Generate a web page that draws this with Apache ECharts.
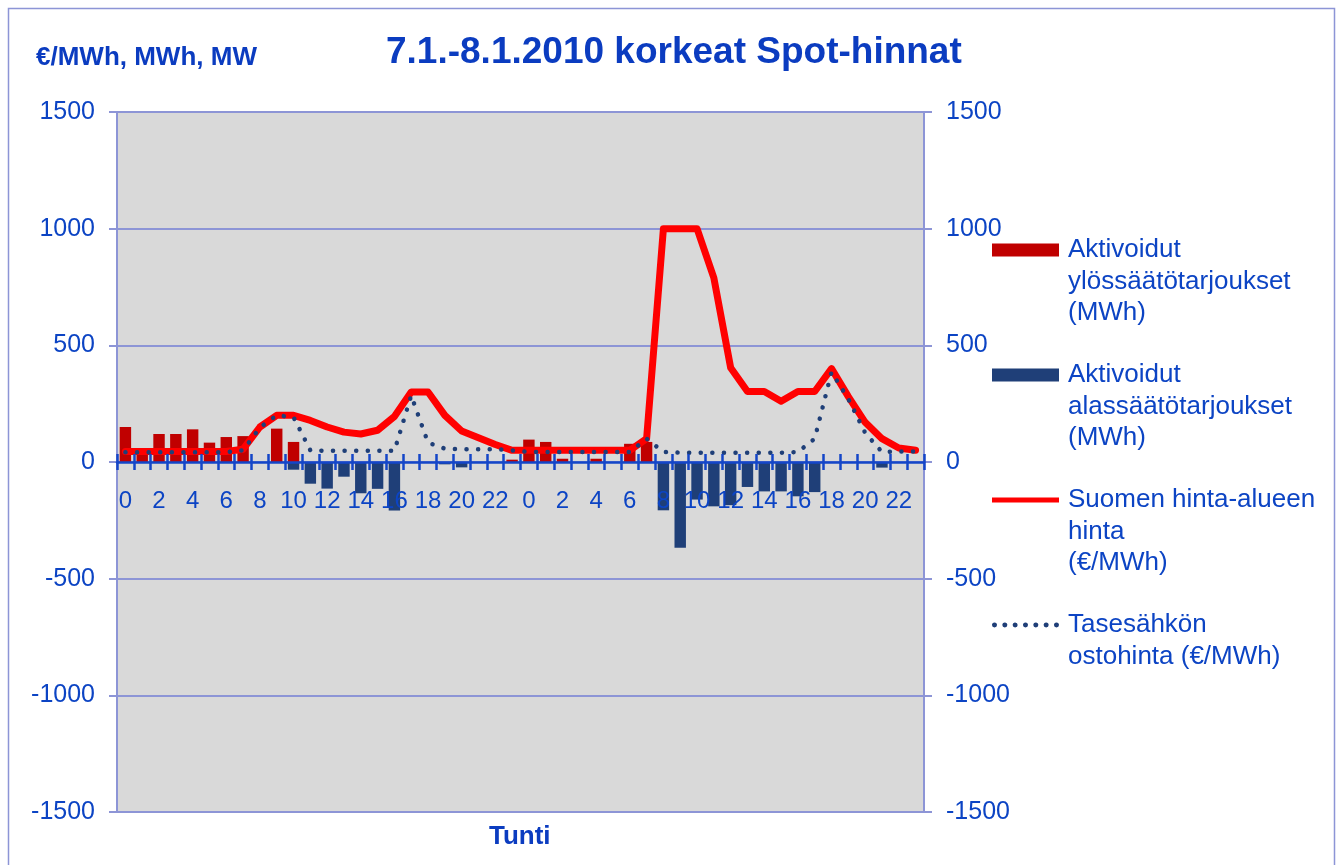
<!DOCTYPE html>
<html>
<head>
<meta charset="utf-8">
<script src="https://cdn.jsdelivr.net/npm/echarts@6/dist/echarts.min.js"></script>
<style>
  html, body { margin: 0; padding: 0; background: #fff; }
  #main { width: 1339px; height: 865px; }
</style>
</head>
<body>
<div id="main"></div>
<script>
// tunnit 7.1. ja 8.1.
var hours = [];
for (var d = 0; d < 2; d++) {
  for (var h = 0; h < 24; h++) hours.push(String(h));
}

var ylossaato = [150, 55, 120, 120, 140, 83, 107, 111, 0, 143, 86, 0, 0, 0, 0, 0, 0, 0, 0, 0, 0, 0, 0, 10,
                 96, 86, 14, 0, 14, 0, 78, 86, 0, 0, 0, 0, 0, 0, 0, 0, 0, 0, 0, 0, 0, 0, 0, 0];
var alassaato = [0, 0, 0, 0, 0, 0, 0, 0, 0, 0, -33, -93, -114, -63, -134, -115, -208, 0, 0, -10, -23, 0, 0, 0,
                 0, 0, 0, 0, 0, 0, 0, 0, -207, -367, -161, -190, -185, -107, -126, -126, -147, -129, 0, 0, 0, -24, 0, 0];
var aluehinta = [45, 45, 45, 45, 45, 45, 45, 55, 150, 200, 200, 178, 150, 128, 120, 136, 195, 300, 300, 200, 133, 104, 75, 50,
                 50, 50, 50, 50, 50, 50, 50, 100, 1000, 1000, 1000, 789, 404, 302, 302, 260, 302, 302, 400, 280, 170, 100, 60, 50];
var ostohinta = [42, 42, 42, 42, 42, 42, 42, 50, 148, 200, 192, 50, 48, 48, 48, 48, 48, 285, 83, 57, 55, 55, 55, 50,
                 43, 43, 43, 43, 43, 43, 43, 100, 43, 40, 40, 40, 40, 40, 40, 40, 43, 100, 385, 270, 125, 43, 45, 45];

var names = [
  'Aktivoidut\nylössäätötarjoukset\n(MWh)',
  'Aktivoidut\nalassäätötarjoukset\n(MWh)',
  'Suomen hinta-alueen\nhinta\n(€/MWh)',
  'Tasesähkön\nostohinta (€/MWh)'
];

var blue = '#0c44c4';
var gridColor = '#8d95d6';
var font = 'Liberation Sans, Arial, sans-serif';
var lh = 31.5;

// pisteviiva legendaan
var dots = 'path://';
for (var i = 0; i < 7; i++) {
  var cx = 2.5 + i * 10.33;
  dots += 'M' + (cx - 2.5) + ' 2.5a2.5 2.5 0 1 0 5 0a2.5 2.5 0 1 0 -5 0';
}
dots += 'M0 0h0.01M67 5h0.01';

function legendAt(name, iconY, icon, h) {
  var lines = name.split('\n').length;
  var blockH = (2 * lines - 1) * lh;
  return {
    data: [name],
    left: 992,
    top: iconY - blockH / 2,
    padding: 0,
    orient: 'vertical',
    itemWidth: 67,
    itemHeight: h,
    itemGap: 0,
    icon: icon,
    formatter: function (n) {
      return new Array(lines).join('\n') + n;
    },
    textStyle: { color: blue, fontSize: 26, fontFamily: font, lineHeight: lh, padding: [0, 0, 0, 4] }
  };
}

var chartDom = document.getElementById('main');
var myChart = echarts.init(chartDom);
var option = {
  animation: false,
  backgroundColor: '#fff',
  title: [
    {
      text: '7.1.-8.1.2010 korkeat Spot-hinnat',
      left: 381, top: 29,
      textStyle: { color: '#0b3cc0', fontSize: 37, fontWeight: 'bold', fontFamily: font }
    },
    {
      text: '€/MWh, MWh, MW',
      left: 31, top: 40,
      textStyle: { color: '#0b3cc0', fontSize: 26, fontWeight: 'bold', fontFamily: font }
    },
    {
      text: 'Tunti',
      left: 484, top: 819,
      textStyle: { color: '#0b3cc0', fontSize: 26, fontWeight: 'bold', fontFamily: font }
    }
  ],
  graphic: [{
    type: 'rect',
    shape: { x: 8.5, y: 8.5, width: 1326, height: 870 },
    style: { fill: 'none', stroke: '#8d95d6', lineWidth: 1.5 },
    z: -1
  }],
  legend: [
    legendAt(names[0], 250, 'rect', 13),
    legendAt(names[1], 375, 'rect', 13),
    legendAt(names[2], 500, 'rect', 5),
    legendAt(names[3], 625, dots, 5)
  ],
  grid: {
    left: 117, right: 415, top: 112, bottom: 53,
    show: true, backgroundColor: '#d9d9d9', borderWidth: 0
  },
  xAxis: [
    {
      type: 'category',
      data: hours,
      position: 'bottom',
      offset: -350,
      z: 5,
      axisLine: { onZero: false, lineStyle: { color: '#1446c8', width: 2.5 } },
      axisTick: { show: true, interval: 0, length: 8, lineStyle: { color: '#1446c8', width: 2.5 } },
      axisLabel: { interval: 1, color: blue, fontSize: 24, fontFamily: font, margin: 27 },
      splitLine: { show: false }
    },
    {
      type: 'category',
      data: hours,
      position: 'bottom',
      offset: -350,
      z: 5,
      axisLine: { onZero: false, show: false },
      axisTick: { show: true, interval: 0, inside: true, length: 8, lineStyle: { color: '#1446c8', width: 2.5 } },
      axisLabel: { show: false },
      splitLine: { show: false }
    }
  ],
  yAxis: [
    {
      type: 'value',
      min: -1500, max: 1500, interval: 500,
      axisLine: { show: true, lineStyle: { color: gridColor, width: 2 } },
      axisTick: { show: true, length: 8, lineStyle: { color: gridColor, width: 2 } },
      axisLabel: { color: blue, fontSize: 25, fontFamily: font, margin: 22, formatter: function (v) { return String(v); } },
      splitLine: { show: true, lineStyle: { color: gridColor, width: 2 } }
    },
    {
      type: 'value',
      min: -1500, max: 1500, interval: 500,
      position: 'right',
      axisLine: { show: true, lineStyle: { color: gridColor, width: 2 } },
      axisTick: { show: true, length: 8, lineStyle: { color: gridColor, width: 2 } },
      axisLabel: { color: blue, fontSize: 25, fontFamily: font, margin: 22, formatter: function (v) { return String(v); } },
      splitLine: { show: false }
    }
  ],
  series: [
    {
      name: names[0],
      type: 'bar',
      data: ylossaato,
      barWidth: '68%',
      barGap: '-100%',
      itemStyle: { color: '#c00000' }
    },
    {
      name: names[1],
      type: 'bar',
      data: alassaato,
      barWidth: '68%',
      barGap: '-100%',
      itemStyle: { color: '#1f3f78' }
    },
    {
      name: names[2],
      type: 'line',
      data: aluehinta,
      symbol: 'none',
      lineStyle: { color: '#ff0000', width: 7, join: 'round', cap: 'round' },
      itemStyle: { color: '#ff0000' },
      z: 3
    },
    {
      name: names[3],
      type: 'line',
      data: ostohinta,
      symbol: 'none',
      lineStyle: { color: '#1f3f78', width: 4.5, type: [0.1, 11.5], cap: 'round' },
      itemStyle: { color: '#1f3f78' },
      z: 4
    }
  ]
};
myChart.setOption(option);
</script>
</body>
</html>
